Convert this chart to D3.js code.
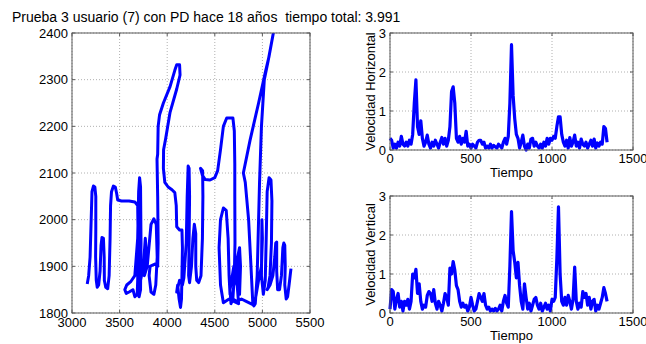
<!DOCTYPE html>
<html>
<head>
<meta charset="utf-8">
<script src="https://cdn.jsdelivr.net/npm/d3@7"></script>
<style>
  body { margin: 0; background: #fff; }
  svg { display: block; font-family: "Liberation Sans", Arial, sans-serif; }
</style>
</head>
<body>
<div id="chart"></div>
<script>
// trazo de escritura (x, y)
const trazoX = [
  3160,3175,3190,3200,3210,3225,3240,3250,3250,3248,3255,3265,3280,
  3295,3305,3315,3330,3338,3340,3355,3375,
  3390,3400,3405,3415,3435,3455,3470,3480,3520,3600,3660,3690,3695,3690,3685,3660,3640,3600,3570,3555,3575,3620,3660,
  3690,3700,3710,3720,3725,3720,3705,3690,
  3720,3750,3770,3780,3760,3790,3830,3860,3885,3895,3880,3860,3830,3810,3820,3870,3900,
  3905,3900,3893,3900,3905,3920,3960,4030,4080,4100,4130,4135,4100,4030,3985,3962,3960,3975,4010,4050,4080,4095,4100,4130,4155,4160,4155,4150,4140,4125,4110,4100,4130,4160,4175,
  4200,4210,4220,4230,4235,4230,4225,4235,
  4255,4270,4285,4300,4300,4310,4330,4355,4370,4375,4372,4350,4370,4400,4450,4500,4530,4560,4590,4625,4690,4705,4710,
  4710,4712,4705,4690,4670,4660,4700,4720,4760,4770,4760,4740,4735,4750,4700,4650,4590,4560,4545,4560,4590,4620,4640,4650,4660,4690,4730,4780,
  4830,4900,4880,4855,4820,4800,4870,4960,5030,5070,5115,
  5060,5020,4990,4970,4955,4945,4925,
  4910,4935,4960,4990,5000,4995,4990,5010,5030,5040,5050,5070,5090,5100,5095,5080,5060,5050,5080,5110,5130,5140,5150,5150,5160,5180,5200,5215,5225,5235,5240,5235,5250,5265,5280,5300
];
const trazoY = [
  1862,1880,1920,1990,2060,2072,2070,2050,1980,1920,1870,1855,1860,
  1890,1945,1962,1960,1920,1870,1855,1852,
  1880,1960,2030,2060,2072,2070,2055,2042,2040,2040,2038,2030,1950,1870,1840,1835,1850,1845,1842,1850,1860,1868,1880,
  1960,2060,2090,2070,1950,1850,1835,1840,
  1870,1900,1960,1930,1880,1900,1990,2002,1990,1920,1860,1840,1845,1880,1900,1905,1900,
  1950,2050,2130,2140,2200,2225,2250,2285,2320,2332,2332,2310,2280,2230,2175,2150,2110,2080,2070,2064,2058,2030,1985,1978,1978,1940,1880,1830,1812,1830,1860,1845,1870,1860,1875,
  1950,2050,2115,2110,2050,1950,1880,1865,
  1900,1960,1990,1970,1900,1870,1865,1880,1960,2050,2105,2110,2095,2086,2085,2090,2105,2150,2200,2218,2218,2190,2120,
  2050,1950,1880,1830,1820,1850,1900,1870,1840,1900,1940,1920,1860,1820,1825,1830,1822,1860,1940,2000,2025,2020,1960,1880,1840,1830,1825,1830,
  1825,1818,1900,2000,2080,2100,2170,2250,2315,2350,2400,
  2340,2300,2200,2080,1960,1880,1820,
  1815,1840,1870,1900,1960,2000,1880,1840,1870,1960,2060,2090,2085,2040,1950,1880,1855,1850,1860,1880,1920,1950,1952,1890,1850,1850,1880,1940,1950,1945,1900,1860,1830,1835,1860,1895
];

// velocidades, una muestra cada 10 unidades de tiempo (0 ... 1340)
const pasoTiempo = 10;
const velHorizontal = [
  0.30,0.25,0.05,0.15,0.05,0.20,0.10,0.35,0.15,0.10,
  0.20,0.10,0.25,0.15,0.40,1.20,1.80,0.60,0.40,0.75,
  0.30,0.10,0.20,0.38,0.15,0.05,0.20,0.10,0.25,0.15,
  0.05,0.20,0.32,0.15,0.30,0.10,0.25,0.60,1.50,1.62,
  1.20,0.30,0.20,0.35,0.15,0.30,0.20,0.48,0.10,0.15,
  0.05,0.15,0.10,0.05,0.20,0.25,0.25,0.15,0.20,0.05,
  0.10,0.05,0.15,0.05,0.12,0.08,0.05,0.15,0.10,0.05,
  0.20,0.30,0.15,0.35,1.20,2.70,1.40,0.80,0.40,0.30,
  0.05,0.20,0.38,0.10,0.00,0.15,0.05,0.28,0.30,0.10,
  0.20,0.10,0.05,0.15,0.05,0.20,0.10,0.30,0.15,0.30,
  0.25,0.35,0.30,0.60,0.85,0.85,0.40,0.20,0.10,0.25,
  0.05,0.32,0.10,0.20,0.38,0.10,0.20,0.05,0.28,0.15,
  0.10,0.20,0.05,0.15,0.25,0.10,0.28,0.05,0.18,0.10,
  0.20,0.15,0.60,0.55,0.20
];
const velVertical = [
  0.10,0.60,0.55,0.10,0.35,0.50,0.15,0.30,0.05,0.30,
  0.20,0.35,0.10,0.30,1.00,0.90,1.12,0.50,0.75,0.30,
  0.10,0.20,0.15,0.45,0.55,0.50,0.30,0.60,0.25,0.10,
  0.30,0.20,0.05,0.25,0.50,0.40,0.20,1.15,1.00,1.32,
  1.10,0.70,0.60,0.30,0.15,0.25,0.15,0.20,0.05,0.15,
  0.40,0.20,0.05,0.10,0.30,0.50,0.40,0.30,0.50,0.20,
  0.10,0.15,0.05,0.10,0.05,0.12,0.05,0.10,0.20,0.05,
  0.30,0.45,0.25,0.15,1.20,2.60,1.60,1.30,0.90,1.30,
  0.70,0.30,0.10,0.75,0.40,0.10,0.25,0.05,0.20,0.35,
  0.40,0.20,0.10,0.25,0.05,0.15,0.25,0.10,0.20,0.05,
  0.35,0.30,0.40,1.40,2.72,1.00,0.30,0.20,0.40,0.20,
  0.45,0.30,0.10,0.35,1.18,0.30,0.10,0.25,0.15,0.55,
  0.40,0.50,0.20,0.40,0.10,0.30,0.35,0.05,0.20,0.10,
  0.25,0.40,0.65,0.50,0.30
];

const titulo = "Prueba 3 usuario (7) con PD hace 18 a\u00f1os  tiempo total: 3.991";
const ticksTrazoX = [3000, 3500, 4000, 4500, 5000, 5500];
const ticksTrazoY = [1800, 1900, 2000, 2100, 2200, 2300, 2400];
const ticksTiempo = [0, 500, 1000, 1500];
const ticksVel = [0, 1, 2, 3];

const W = 646, H = 344;
const azul = "#0000ff";
const fontSize = 13;

const svg = d3.select("#chart").append("svg")
    .attr("width", W)
    .attr("height", H);

svg.append("rect").attr("width", W).attr("height", H).attr("fill", "#fff");

svg.append("text")
    .attr("x", 12)
    .attr("y", 22)
    .attr("font-size", "14px")
    .attr("fill", "#000")
    .style("white-space", "pre")
    .text(titulo);

// grid punteado estilo matlab
function drawAxes(g, x, y, xTicks, yTicks) {
    const [x0, x1] = x.range();
    const [y0, y1] = y.range();

    const grid = g.append("g").attr("class", "grid");
    grid.selectAll("line.gx").data(xTicks).enter().append("line")
        .attr("class", "gx")
        .attr("x1", d => x(d)).attr("x2", d => x(d))
        .attr("y1", y0).attr("y2", y1)
        .attr("stroke", "#b0b0b0").attr("stroke-dasharray", "1,2");
    grid.selectAll("line.gy").data(yTicks).enter().append("line")
        .attr("class", "gy")
        .attr("x1", x0).attr("x2", x1)
        .attr("y1", d => y(d)).attr("y2", d => y(d))
        .attr("stroke", "#b0b0b0").attr("stroke-dasharray", "1,2");
}

// caja, ticks hacia dentro y etiquetas
function drawFrame(g, x, y, xTicks, yTicks, labels) {
    const [x0, x1] = x.range();
    const [y0, y1] = y.range();
    const tk = 3;
    const frame = g.append("g").attr("class", "frame");

    frame.append("rect")
        .attr("x", x0).attr("y", y1)
        .attr("width", x1 - x0).attr("height", y0 - y1)
        .attr("fill", "none").attr("stroke", "#5a5a5a").attr("stroke-width", 1);

    xTicks.forEach(t => {
        frame.append("line").attr("x1", x(t)).attr("x2", x(t)).attr("y1", y0).attr("y2", y0 - tk)
            .attr("stroke", "#5a5a5a");
        frame.append("line").attr("x1", x(t)).attr("x2", x(t)).attr("y1", y1).attr("y2", y1 + tk)
            .attr("stroke", "#5a5a5a");
    });
    yTicks.forEach(t => {
        frame.append("line").attr("x1", x0).attr("x2", x0 + tk).attr("y1", y(t)).attr("y2", y(t))
            .attr("stroke", "#5a5a5a");
        frame.append("line").attr("x1", x1).attr("x2", x1 - tk).attr("y1", y(t)).attr("y2", y(t))
            .attr("stroke", "#5a5a5a");
    });

    g.append("g").selectAll("text").data(xTicks).enter().append("text")
        .attr("x", d => x(d))
        .attr("y", y0 + labels.xOff)
        .attr("text-anchor", "middle")
        .attr("font-size", fontSize + "px")
        .text(d => d);

    g.append("g").selectAll("text").data(yTicks).enter().append("text")
        .attr("x", x0 - labels.yOff)
        .attr("y", d => y(d))
        .attr("dy", "0.36em")
        .attr("text-anchor", "end")
        .attr("font-size", fontSize + "px")
        .text(d => d);
}

// ---- panel izquierdo: trazo ----
const xT = d3.scaleLinear().domain([3000, 5500]).range([72, 310]);
const yT = d3.scaleLinear().domain([1800, 2400]).range([313, 33]);
const gT = svg.append("g");
drawAxes(gT, xT, yT, ticksTrazoX, ticksTrazoY);

svg.append("clipPath").attr("id", "clipT")
    .append("rect").attr("x", 72).attr("y", 33).attr("width", 238).attr("height", 280);

const trazo = trazoX.map((d, i) => [d, trazoY[i]]);
gT.append("path")
    .datum(trazo)
    .attr("clip-path", "url(#clipT)")
    .attr("fill", "none")
    .attr("stroke", azul)
    .attr("stroke-width", 3)
    .attr("stroke-linejoin", "round")
    .attr("d", d3.line().x(d => xT(d[0])).y(d => yT(d[1])));

drawFrame(gT, xT, yT, ticksTrazoX, ticksTrazoY, { xOff: 14, yOff: 4 });

// ---- paneles derechos: velocidades ----
function panelVel(values, top, bottom, label) {
    const x = d3.scaleLinear().domain([0, 1500]).range([390, 633]);
    const y = d3.scaleLinear().domain([0, 3]).range([bottom, top]);
    const g = svg.append("g");
    drawAxes(g, x, y, ticksTiempo, ticksVel);

    g.append("path")
        .datum(values)
        .attr("fill", "none")
        .attr("stroke", azul)
        .attr("stroke-width", 3.2)
        .attr("stroke-linejoin", "round")
        .attr("d", d3.line().x((d, i) => x(i * pasoTiempo)).y(d => y(d)));

    drawFrame(g, x, y, ticksTiempo, ticksVel, { xOff: 13, yOff: 4 });

    g.append("text")
        .attr("x", (390 + 633) / 2)
        .attr("y", bottom + 27)
        .attr("text-anchor", "middle")
        .attr("font-size", fontSize + "px")
        .text("Tiempo");

    g.append("text")
        .attr("transform", `translate(375, ${(top + bottom) / 2}) rotate(-90)`)
        .attr("text-anchor", "middle")
        .attr("font-size", fontSize + "px")
        .text(label);
}

panelVel(velHorizontal, 33, 150, "Velocidad Horizontal");
panelVel(velVertical, 196, 313, "Velocidad Vertical");
</script>
</body>
</html>
